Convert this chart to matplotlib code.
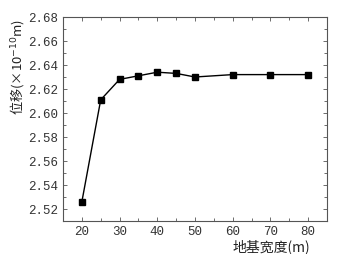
import matplotlib
matplotlib.use("Agg")
import matplotlib.pyplot as plt
from matplotlib.ticker import MultipleLocator

widths = [20, 25, 30, 35, 40, 45, 50, 60, 70, 80]
displacement = [2.526, 2.611, 2.628, 2.631, 2.634, 2.633, 2.630, 2.632, 2.632, 2.632]
xticks = [20, 30, 40, 50, 60, 70, 80]
yticks = [2.52, 2.54, 2.56, 2.58, 2.60, 2.62, 2.64, 2.66, 2.68]

plt.rcParams['font.family'] = ['Liberation Mono', 'Noto Sans CJK SC']

fig = plt.figure(figsize=(3.38, 2.54), dpi=100)
ax = fig.add_axes([63/338, 1-221/254, (327-63)/338, (221-17)/254])
ax.plot(widths, displacement, color='black', lw=1.0, marker='s', ms=4)
ax.set_xlim(15, 85)
ax.set_ylim(2.51, 2.68)
ax.set_xticks(xticks)
ax.set_yticks(yticks)
ax.set_yticklabels([f"{v:.2f}" for v in yticks])
ax.xaxis.set_minor_locator(MultipleLocator(5))
ax.yaxis.set_minor_locator(MultipleLocator(0.01))
ax.tick_params(which='both', direction='in', top=True, right=True, labelsize=9,
               color='#555555', labelcolor='#333333')
ax.tick_params(which='major', length=3, width=0.6)
ax.tick_params(which='minor', length=2, width=0.6)
for s in ax.spines.values():
    s.set_color('#555555')
    s.set_linewidth(0.8)
fig.text(17/338, 1-67/254, '位移(×10$^{-10}$m)', rotation=90, ha='center', va='center',
         fontsize=9.5, family=['Noto Sans CJK SC', 'Liberation Mono'], color='#222222')
fig.text(310/338, 1-247/254, '地基宽度(m)', ha='right', va='center',
         fontsize=10, family=['Noto Sans CJK SC', 'Liberation Mono'], color='#222222')
fig.savefig('out.png', dpi=100)
